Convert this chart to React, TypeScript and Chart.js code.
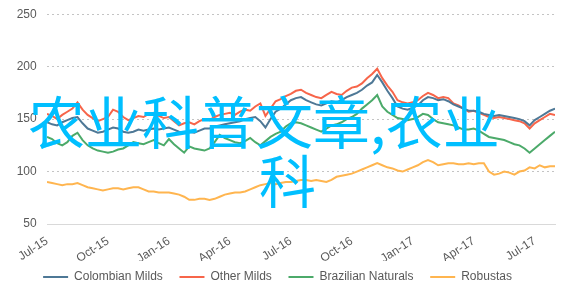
import React, { useEffect, useRef } from "react";
import { Chart, registerables } from "chart.js";

Chart.register(...registerables);

// months since Jul-2015, sampled every quarter month (index * 0.25)
const seriesNames = ["Colombian Milds", "Other Milds", "Brazilian Naturals", "Robustas"];
const seriesColors = ["#4e7896", "#f7654a", "#4caa6a", "#ffb54f"];
const tickLabels = ["Jul-15", "Oct-15", "Jan-16", "Apr-16", "Jul-16", "Oct-16", "Jan-17", "Apr-17", "Jul-17"];
const monthStep = 0.25;

const colombianMilds = [
  147, 145, 144, 147, 149, 151, 152, 146, 141, 139, 137, 138, 140, 142, 141, 138, 137, 138, 140, 139,
  140, 141, 140, 141, 142, 140, 138, 137, 138, 137, 139, 141, 141, 143, 144, 145, 146, 147, 148, 150,
  151, 152, 148, 142, 150, 157, 160, 164, 168, 170, 171, 168, 166, 164, 163, 165, 167, 166, 168, 171,
  173, 175, 178, 182, 185, 192, 185, 177, 170, 162, 160, 159, 161, 163, 168, 171, 170, 168, 169, 167,
  164, 162, 160, 158, 158, 157, 155, 154, 153, 154, 153, 152, 151, 150, 148, 144, 149, 152, 155, 158,
  160,
];
const otherMilds = [
  155, 153, 150, 154, 157, 160, 166, 159, 154, 151, 148, 150, 152, 159, 157, 152, 149, 151, 153, 152,
  155, 156, 153, 151, 152, 148, 144, 146, 147, 145, 148, 150, 149, 152, 154, 155, 156, 154, 157, 159,
  158, 162, 165, 153, 160, 167, 169, 172, 174, 177, 178, 175, 173, 171, 170, 173, 176, 174, 173, 177,
  180, 181, 184, 189, 193, 198, 189, 182, 176, 168, 166, 165, 166, 168, 172, 175, 173, 170, 171, 170,
  165, 163, 160, 157, 158, 156, 154, 152, 151, 152, 151, 150, 149, 148, 146, 141, 146, 149, 152, 155,
  154,
];
const brazilianNaturals = [
  133, 131, 127, 125, 128, 134, 137, 130, 125, 122, 120, 119, 118, 119, 121, 122, 125, 128, 127, 126,
  128, 130, 127, 125, 131, 126, 122, 118, 124, 122, 121, 120, 122, 128, 135, 132, 130, 128, 127, 129,
  132, 128, 125, 129, 133, 136, 138, 143, 146, 147, 146, 144, 142, 140, 138, 141, 144, 145, 147, 150,
  152, 155, 160, 164, 168, 173, 162, 157, 154, 151, 150, 149, 150, 152, 155, 154, 150, 147, 146, 145,
  144, 142, 140, 140, 141, 139, 136, 133, 132, 131, 130, 128, 126, 125, 122, 118, 122, 126, 130, 134,
  138,
];
const robustas = [
  90, 89, 88, 87, 88, 88, 89, 87, 85, 84, 83, 82, 83, 84, 84, 83, 84, 85, 85, 83,
  81, 81, 80, 80, 80, 79, 78, 76, 73, 73, 74, 74, 73, 74, 76, 78, 79, 80, 80, 81,
  83, 85, 87, 88, 89, 88, 89, 90, 90, 91, 92, 92, 91, 92, 91, 90, 92, 95, 96, 97,
  98, 100, 102, 104, 106, 108, 106, 104, 103, 101, 100, 102, 104, 106, 109, 111, 109, 106, 107, 108,
  108, 107, 107, 108, 107, 108, 108, 100, 97, 98, 100, 99, 97, 100, 101, 104, 103, 106, 104, 105,
  105,
];

const allSeries = [colombianMilds, otherMilds, brazilianNaturals, robustas];

export default function App() {
  const canvasRef = useRef<HTMLCanvasElement | null>(null);

  useEffect(() => {
    document.body.style.margin = "0";
    const canvas = canvasRef.current;
    if (!canvas) return;
    Chart.defaults.font.family = "'Liberation Sans', Arial, sans-serif";
    Chart.defaults.font.size = 12;
    Chart.defaults.color = "#595959";

    const datasets = allSeries.map((vals, si) => ({
      label: seriesNames[si],
      data: vals.map((v, i) => ({ x: i * monthStep, y: v })),
      borderColor: seriesColors[si],
      backgroundColor: seriesColors[si],
      borderWidth: 2,
      pointRadius: 0,
      tension: 0,
      fill: false,
    }));

    const chart = new Chart(canvas, {
      type: "line",
      data: { datasets },
      options: {
        animation: false,
        responsive: false,
        maintainAspectRatio: false,
        layout: { padding: { top: 10, right: 20, left: 0, bottom: 0 } },
        plugins: {
          tooltip: { enabled: false },
          legend: {
            position: "bottom",
            labels: {
              boxWidth: 25,
              boxHeight: 2,
              padding: 10,
              color: "#595959",
              font: { size: 12 },
              generateLabels: (ch: any) =>
                ch.data.datasets.map((d: any, i: number) => ({
                  text: d.label + (i === ch.data.datasets.length - 1 ? "" : "  "),
                  fillStyle: d.borderColor,
                  strokeStyle: d.borderColor,
                  lineWidth: 0,
                  hidden: false,
                  datasetIndex: i,
                  fontColor: "#595959",
                })),
            },
          },
        },
        scales: {
          x: {
            type: "linear",
            min: 0,
            max: 25,
            grid: { display: false },
            border: { display: true, color: "#d9d9d9", width: 1 },
            afterBuildTicks: (scale: any) => {
              scale.ticks = tickLabels.map((_, i) => ({ value: i * 3 }));
            },
            afterFit: (scale: any) => {
              scale.height = 37;
            },
            ticks: {
              autoSkip: false,
              minRotation: 33,
              maxRotation: 33,
              padding: 2,
              color: "#595959",
              font: { size: 12 },
              callback: (v: any) => tickLabels[Math.round(Number(v) / 3)] ?? "",
            },
          },
          y: {
            min: 50,
            max: 250,
            grid: {
              color: (ctx: any) => (ctx.tick && ctx.tick.value === 50 ? "rgba(0,0,0,0)" : "#c4c4c4"),
              drawTicks: false,
              lineWidth: 1,
            },
            border: { display: false, dash: [2, 3] },
            afterFit: (scale: any) => {
              scale.width = 47;
            },
            ticks: {
              stepSize: 50,
              padding: 7,
              color: "#595959",
              font: { size: 12 },
              callback: (v: any) => String(v) + " ",
            },
          },
        },
      },
    });
    return () => chart.destroy();
  }, []);

  const textStyle: React.CSSProperties = {
    position: "absolute",
    color: "#00bfff",
    fontFamily: "'Noto Sans CJK SC', sans-serif",
    fontSize: 57,
    lineHeight: "57px",
    whiteSpace: "nowrap",
    pointerEvents: "none",
  };

  return (
    <div style={{ position: "absolute", left: 0, top: 0, width: 575, height: 293, background: "#fff" }}>
      <canvas ref={canvasRef} width={575} height={293} style={{ display: "block", width: 575, height: 293 }} />
      <div style={{ ...textStyle, left: 28, top: 91 }}>农业科普文章,农业</div>
      <div style={{ ...textStyle, left: 0, width: 575, textAlign: "center", top: 150 }}>科</div>
    </div>
  );
}
